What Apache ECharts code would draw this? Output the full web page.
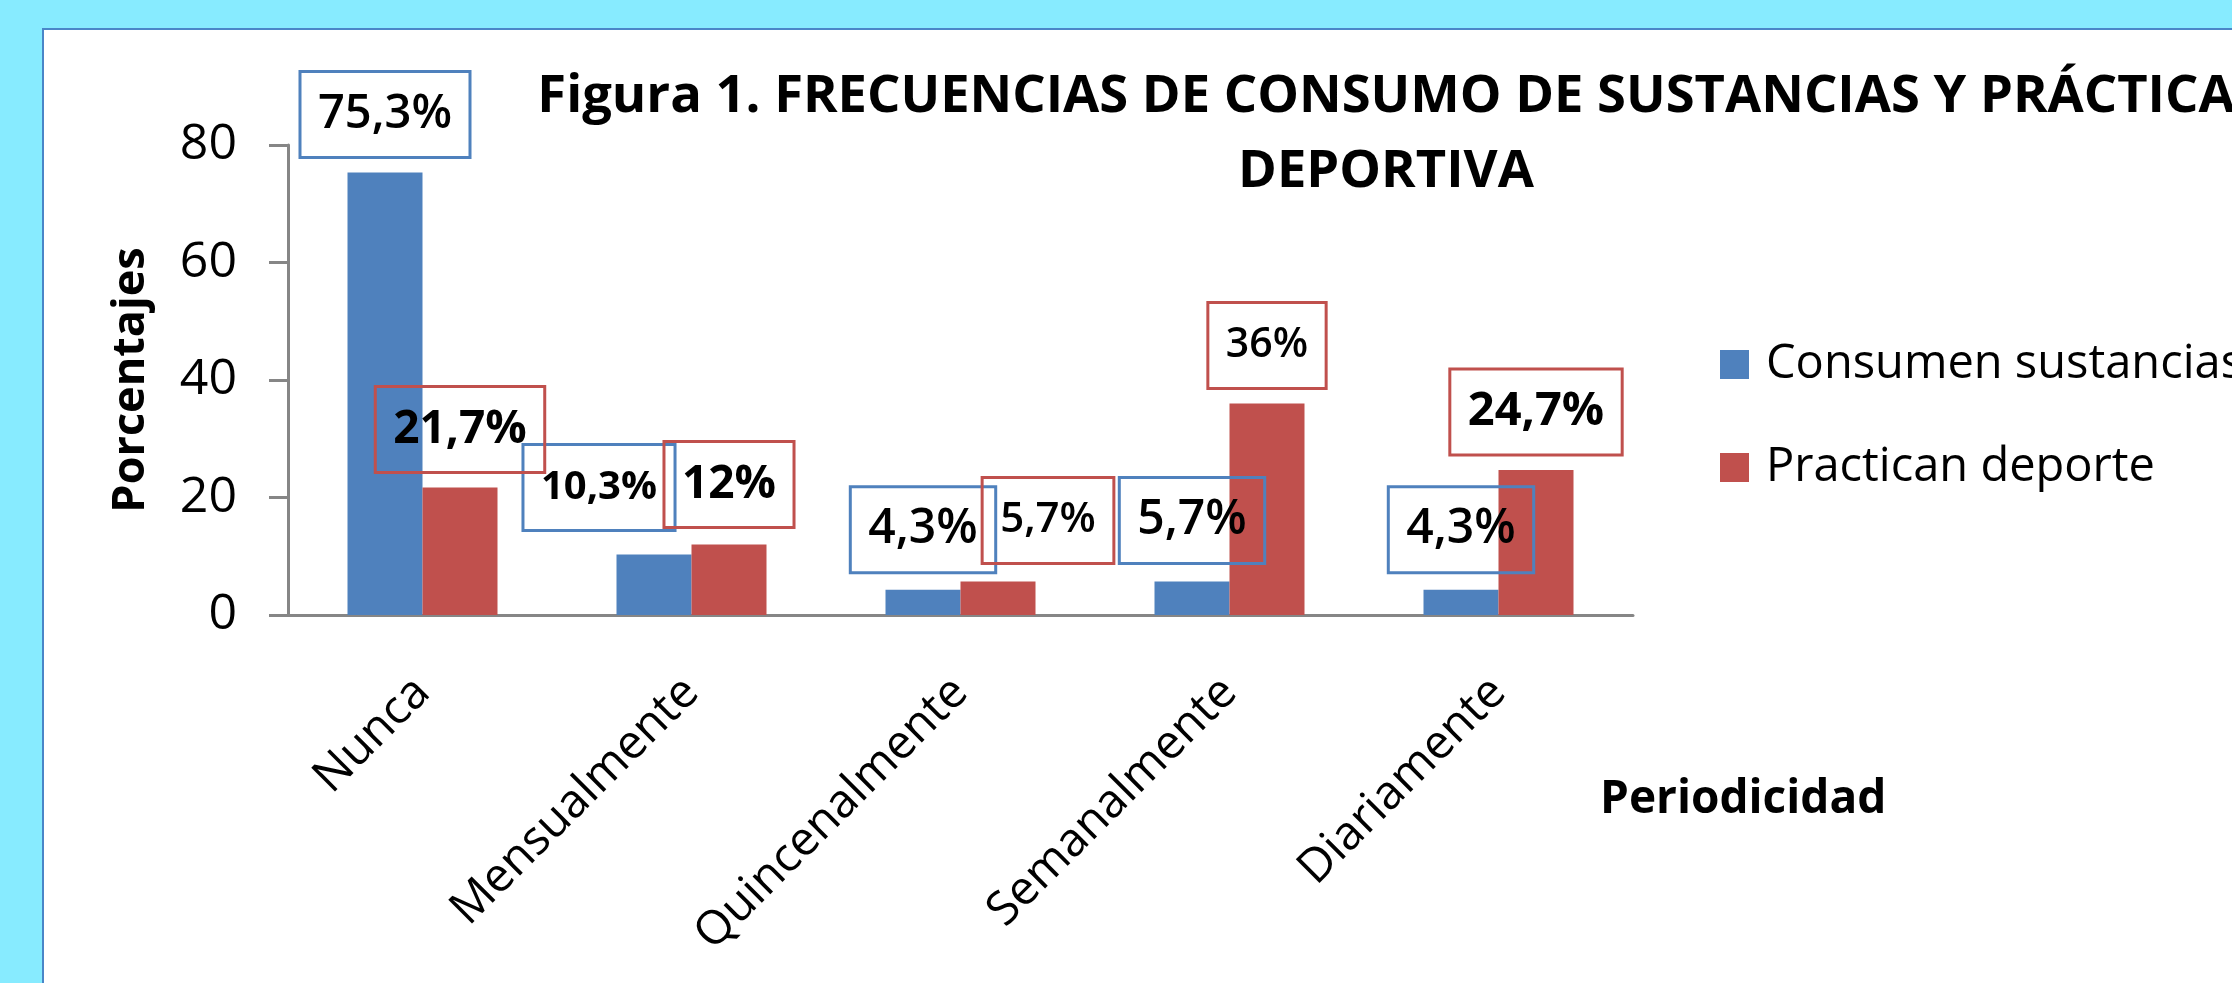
<!DOCTYPE html>
<html>
<head>
<meta charset="utf-8">
<script src="https://cdn.jsdelivr.net/npm/echarts@6/dist/echarts.min.js"></script>
<style>
  html, body { margin: 0; padding: 0; background: #87ebff; overflow: hidden; }
  #panel { position: absolute; left: 42px; top: 28px; width: 2400px; height: 1200px; background: #fff; border: 2px solid #4a86c8; }
  #chart { position: absolute; left: 0; top: 0; width: 2232px; height: 983px; }
</style>
</head>
<body>
<div id="panel"></div>
<div id="chart"></div>
<script>
// data
const categories = ["Nunca", "Mensualmente", "Quincenalmente", "Semanalmente", "Diariamente"];
const consumen = [75.3, 10.3, 4.3, 5.7, 4.3];
const practican = [21.7, 12, 5.7, 36, 24.7];
const seriesNames = ["Consumen sustancias", "Practican deporte"];
const yMin = 0, yMax = 80, yStep = 20;

const titleText = "Figura 1. FRECUENCIAS DE CONSUMO DE SUSTANCIAS Y PRÁCTICA\nDEPORTIVA";

// per label look (the source figure had hand placed / resized labels)
const consumenLabelLook = [
  { fontSize: 47 },
  { fontSize: 40, fontWeight: "bold", offset: [-55, -9] },
  { fontSize: 48, offset: [0, -2] },
  { fontSize: 48, offset: [0, -3] },
  { fontSize: 48, offset: [0, -2] },
];
const practicanLabelLook = [
  { fontSize: 46, fontWeight: "bold" },
  { fontSize: 46, fontWeight: "bold", offset: [0, -2] },
  { fontSize: 42, offset: [50, -3] },
  { fontSize: 41 },
  { fontSize: 47, fontWeight: "bold" },
];

const blue = "#4f81bd";
const red = "#c0504d";
const axisGray = "#868686";
const font = "Open Sans";

const fmt = (v) => String(v).replace(".", ",") + "%";

function labelBase(color) {
  return {
    show: true,
    position: "top",
    distance: 15,
    color: "#000",
    fontFamily: font,
    fontWeight: 600,
    lineHeight: 46,
    borderColor: color,
    borderWidth: 3,
    padding: [20, 18],
    formatter: (p) => fmt(p.value),
  };
}

const chart = echarts.init(document.getElementById("chart"));

chart.setOption({
  backgroundColor: "transparent",
  animation: false,
  title: [
    {
      text: titleText,
      left: 1386,
      top: 60,
      textAlign: "center",
      padding: 0,
      textStyle: { fontFamily: font, fontWeight: "bold", fontSize: 52.5, lineHeight: 75, color: "#000" },
    },
    {
      text: "Periodicidad",
      left: 1600,
      top: 777,
      padding: 0,
      textStyle: { fontFamily: font, fontWeight: "bold", fontSize: 46, color: "#000" },
    },
  ],
  legend: {
    orient: "vertical",
    left: 1715,
    top: 336,
    icon: "rect",
    itemWidth: 29,
    itemHeight: 29,
    itemGap: 56,
    data: seriesNames,
    textStyle: { fontFamily: font, fontSize: 47, lineHeight: 46, color: "#000", padding: [0, 0, 0, 12] },
  },
  grid: { left: 288, top: 145, right: 599, bottom: 368 },
  xAxis: {
    type: "category",
    data: categories,
    axisLine: { lineStyle: { color: axisGray, width: 3 } },
    axisTick: { length: 18, lineStyle: { color: axisGray, width: 3 } },
    axisLabel: { rotate: 45, margin: 70, fontFamily: font, fontSize: 47, color: "#000" },
  },
  yAxis: {
    type: "value",
    min: yMin,
    max: yMax,
    interval: yStep,
    name: "Porcentajes",
    nameLocation: "middle",
    nameRotate: 90,
    nameGap: 134,
    nameTextStyle: { fontFamily: font, fontWeight: "bold", fontSize: 45, color: "#000" },
    axisLine: { show: true, lineStyle: { color: axisGray, width: 3 } },
    axisTick: { show: true, length: 19, lineStyle: { color: axisGray, width: 3 } },
    splitLine: { show: false },
    axisLabel: { margin: 51, fontFamily: font, fontSize: 50, color: "#000" },
  },
  series: [
    {
      name: seriesNames[0],
      type: "bar",
      barWidth: 75,
      barGap: "0%",
      itemStyle: { color: blue },
      label: labelBase(blue),
      data: consumen.map((v, i) => ({ value: v, label: consumenLabelLook[i] })),
    },
    {
      name: seriesNames[1],
      type: "bar",
      barWidth: 75,
      barGap: "0%",
      itemStyle: { color: red },
      label: labelBase(red),
      data: practican.map((v, i) => ({ value: v, label: practicanLabelLook[i] })),
    },
  ],
});
</script>
</body>
</html>
